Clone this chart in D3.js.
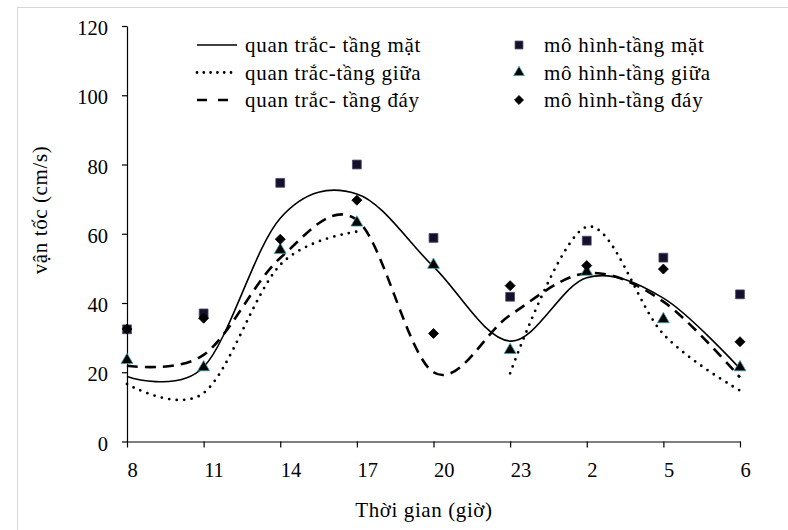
<!DOCTYPE html>
<html>
<head>
<meta charset="utf-8">
<script src="https://cdn.jsdelivr.net/npm/d3@7"></script>
<style>
  body { margin: 0; background: #fff; }
  text { font-family: "Liberation Serif", "Times New Roman", serif; fill: #000; }
</style>
</head>
<body>
<svg width="788" height="530"></svg>
<script>
const width = 788;
const height = 530;

// categories (giờ) and series values
const hours = ["8", "11", "14", "17", "20", "23", "2", "5", "6"];
const yTicks = [0, 20, 40, 60, 80, 100, 120];

const obsSurface = [18.8, 21.5, 64.5, 71.5, 50.5, 29, 47.3, 41.4, 21];
const obsMiddle = [16.6, 14, 51, 60.6, null, 19.7, 62, 31, 14.7];
const obsBottom = [21.9, 25, 53, 64, 20, 36.5, 48.6, 40.4, 18.5];

const modSurface = [32.4, 37, 74.7, 80, 58.8, 41.8, 58, 53.1, 42.5];
const modMiddle = [23.5, 21.4, 55.3, 63.2, 51, 26.4, 49, 35.3, 21.4];
const modBottom = [32.5, 35.6, 58.4, 69.7, 31.2, 45, 50.8, 49.8, 28.8];

const lineLabels = ["quan trắc- tầng mặt", "quan trắc-tầng giữa", "quan trắc- tầng đáy"];
const markLabels = ["mô hình-tầng mặt", "mô hình-tầng giữa", "mô hình-tầng đáy"];

let svg = d3.select("svg");

// light frame round the picture
svg.append("rect")
    .attr("x", 17.5).attr("y", 7.5)
    .attr("width", 800).attr("height", 600)
    .attr("fill", "none")
    .attr("stroke", "#d6d6d6");

let xScale = d3.scalePoint()
            .domain(hours)
            .range([127, 740])
            .padding(0);
let yScale = d3.scaleLinear()
            .domain([0, 120])
            .range([441.5, 26]);

let xAxis = d3.axisBottom(xScale).tickSize(6).tickSizeOuter(0).tickPadding(15);
let yAxis = d3.axisLeft(yScale).tickValues(yTicks).tickSize(5).tickSizeOuter(0).tickPadding(14);

let gx = svg.append("g")
    .attr("transform", `translate(0, ${yScale(0)})`)
    .call(xAxis);
let gy = svg.append("g")
    .attr("transform", `translate(${xScale("8")}, 0)`)
    .call(yAxis);
[gx, gy].forEach(g => {
    g.selectAll("path, line").attr("stroke", "#000").attr("stroke-width", 1.2);
    g.selectAll("text")
        .style("font-family", "Liberation Serif, serif")
        .style("font-size", "20.5px")
        .attr("fill", "#000");
});
// tick labels in the reference start at the tick
gx.selectAll("text").attr("text-anchor", "start").attr("dx", "0");
gy.selectAll("text").attr("dy", "0.42em");

// axis titles
svg.append("text")
    .attr("x", 424).attr("y", 517)
    .style("text-anchor", "middle")
    .style("font-size", "21px")
    .style("letter-spacing", "0.6px")
    .text("Thời gian (giờ)");
svg.append("text")
    .attr("transform", "rotate(-90)")
    .attr("x", -210).attr("y", 47)
    .style("text-anchor", "middle")
    .style("font-size", "21px")
    .style("letter-spacing", "0.6px")
    .text("vận tốc (cm/s)");

// observed lines
const lineStyles = [
    { values: obsSurface, width: 1.6, dash: null, cap: "butt" },
    { values: obsMiddle, width: 2.8, dash: "0,7.5", cap: "round" },
    { values: obsBottom, width: 2.6, dash: "11,7", cap: "butt" }
];
let line = d3.line()
    .defined(d => d.v !== null)
    .x(d => xScale(d.h))
    .y(d => yScale(d.v))
    .curve(d3.curveCardinal.tension(0));

lineStyles.forEach(s => {
    svg.append("path")
        .datum(hours.map((h, i) => ({ h: h, v: s.values[i] })))
        .attr("d", line)
        .attr("fill", "none")
        .attr("stroke", "#000")
        .attr("stroke-width", s.width)
        .attr("stroke-linecap", s.cap)
        .attr("stroke-dasharray", s.dash);
});

// model markers
const markStyles = [
    { values: modSurface, type: d3.symbolSquare, size: 78, rot: 0, fill: "#15112a", stroke: "#4d4470" },
    { values: modMiddle, type: d3.symbolTriangle, size: 62, rot: 0, fill: "#000", stroke: "#3fa7b3" },
    { values: modBottom, type: d3.symbolSquare, size: 50, rot: 45, fill: "#000", stroke: "#000" }
];
markStyles.forEach(s => {
    svg.append("g").selectAll("path")
        .data(hours.map((h, i) => ({ h: h, v: s.values[i] })))
        .enter()
        .append("path")
            .attr("d", d3.symbol().type(s.type).size(s.size))
            .attr("transform", d => `translate(${xScale(d.h)}, ${yScale(d.v)}) rotate(${s.rot})`)
            .attr("fill", s.fill)
            .attr("stroke", s.stroke)
            .attr("stroke-width", 0.8);
});

// legend: observed lines
const legendRows = [45, 72.5, 100];
lineStyles.forEach((s, i) => {
    let y = legendRows[i];
    svg.append("line")
        .attr("x1", 197).attr("x2", i === 2 ? 229 : 237)
        .attr("y1", y).attr("y2", y)
        .attr("stroke", "#000")
        .attr("stroke-width", s.width)
        .attr("stroke-linecap", s.cap)
        .attr("stroke-dasharray", i === 2 ? "10,11" : (i === 1 ? "0,6.8" : null));
    svg.append("text")
        .attr("x", 245).attr("y", y + 7)
        .style("font-size", "21px")
        .style("letter-spacing", "0.7px")
        .text(lineLabels[i]);
});

// legend: model markers
markStyles.forEach((s, i) => {
    let y = legendRows[i];
    svg.append("path")
        .attr("d", d3.symbol().type(s.type).size(s.size * 0.8))
        .attr("transform", `translate(519, ${y}) rotate(${s.rot})`)
        .attr("fill", s.fill)
        .attr("stroke", s.stroke)
        .attr("stroke-width", 0.8);
    svg.append("text")
        .attr("x", 544).attr("y", y + 7)
        .style("font-size", "21px")
        .style("letter-spacing", "0.7px")
        .text(markLabels[i]);
});
</script>
</body>
</html>
